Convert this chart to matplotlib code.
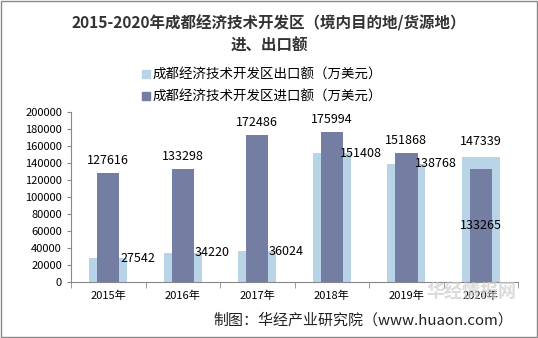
import numpy as np
import matplotlib.pyplot as plt
from matplotlib.patches import Patch

plt.rcParams['font.family'] = ['Noto Sans CJK SC', 'DejaVu Sans']

years = ['2015年', '2016年', '2017年', '2018年', '2019年', '2020年']
exports = [27542, 34220, 36024, 151408, 138768, 147339]
imports = [127616, 133298, 172486, 175994, 151868, 133265]

c_exp = '#B8D4E6'
c_imp = '#737EA2'

fig = plt.figure(figsize=(5.38, 3.38), dpi=100)
ax = fig.add_axes([0.132, 0.166, 0.831, 0.503])

x = np.arange(len(years))
ax.bar(x, exports, width=0.51, color=c_exp, zorder=1)
ax.bar(x, imports, width=0.30, color=c_imp, zorder=2)

for i in range(len(years)):
    if i == len(years) - 1:
        # last year: export label above, import label inside bar
        ax.annotate(f'{exports[i]}', (x[i], exports[i]), xytext=(0, 11),
                    textcoords='offset points', ha='center', va='center', fontsize=9)
        ax.annotate(f'{imports[i]}', (x[i], imports[i] / 2), ha='center', va='center', fontsize=9)
    else:
        ax.annotate(f'{imports[i]}', (x[i], imports[i]), xytext=(0, 9),
                    textcoords='offset points', ha='center', va='center', fontsize=9)
        ax.annotate(f'{exports[i]}', (x[i], exports[i]), xytext=(21, 0),
                    textcoords='offset points', ha='center', va='center', fontsize=9)

ax.set_xlim(-0.5, len(years) - 0.5)
ax.set_ylim(0, 200000)
ax.set_yticks(np.arange(0, 200001, 20000))
ax.tick_params(axis='y', labelsize=8, length=3, color='#888888')
ax.set_xticks(x)
ax.set_xticklabels(years, fontsize=8)
ax.set_xticks(np.arange(-0.5, len(years), 1), minor=True)
ax.tick_params(axis='x', which='major', length=0, pad=6)
ax.tick_params(axis='x', which='minor', length=4, color='#888888')
for s in ['top', 'right']:
    ax.spines[s].set_visible(False)
for s in ['left', 'bottom']:
    ax.spines[s].set_color('#888888')

fig.text(0.5, 0.898, '2015-2020年成都经济技术开发区（境内目的地/货源地）\n进、出口额',
         ha='center', va='center', fontsize=11.2, fontweight='bold', color='#333333',
         linespacing=1.45)

handles = [Patch(color=c_exp), Patch(color=c_imp)]
labels = ['成都经济技术开发区出口额（万美元）', '成都经济技术开发区进口额（万美元）']
fig.legend(handles, labels, loc='center', bbox_to_anchor=(0.487, 0.746), frameon=False,
           fontsize=9.7, handlelength=0.55, handleheight=0.55, handletextpad=0.2,
           labelspacing=0.55, borderpad=0)

fig.text(0.953, 0.052, '制图：华经产业研究院（www.huaon.com）', ha='right', va='center',
         fontsize=10.8, color='#222222')
fig.text(0.876, 0.136, '华经情报网', ha='center', va='center', fontsize=13,
         color='#CCCCCC', fontweight='bold', alpha=0.7, zorder=5)

fig.patches.append(plt.Rectangle((0.002, 0.003), 0.996, 0.994, transform=fig.transFigure,
                                 fill=False, edgecolor='#888888', linewidth=1))

fig.savefig('out.png', dpi=100)
